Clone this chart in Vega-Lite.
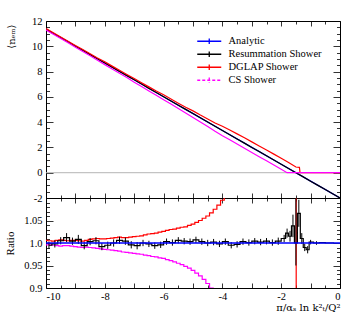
{
  "$schema": "https://vega.github.io/schema/vega-lite/v6.json",
  "autosize": {"type": "pad"},
  "padding": {"left": 3, "top": 15, "right": 5, "bottom": 5},
  "bounds": "flush",
  "spacing": 0,
  "config": {
    "view": {"stroke": "black", "strokeWidth": 1},
    "font": "Liberation Serif",
    "axis": {"domain": false, "grid": false, "labelFont": "Liberation Serif", "labelFontSize": 10.5, "labelColor": "black", "tickColor": "black", "tickWidth": 0.8, "titleFont": "DejaVu Serif", "titleFontSize": 10, "titleFontWeight": "normal", "titleColor": "black"}
  },
  "datasets": {
    "top": [
      {"x": -10, "s": "Analytic", "y": 11.35}, {"x": -9, "s": "Analytic", "y": 10.015}, {"x": -8, "s": "Analytic", "y": 8.68}, {"x": -7, "s": "Analytic", "y": 7.345}, {"x": -6, "s": "Analytic", "y": 6.01}, {"x": -5, "s": "Analytic", "y": 4.675}, {"x": -4, "s": "Analytic", "y": 3.34}, {"x": -3, "s": "Analytic", "y": 2.005}, {"x": -2, "s": "Analytic", "y": 0.67}, {"x": -1, "s": "Analytic", "y": -0.665}, {"x": 0, "s": "Analytic", "y": -2.0},
      {"x": -10, "s": "Resummation Shower", "y": 11.36}, {"x": -9.75, "s": "Resummation Shower", "y": 11.01}, {"x": -9.5, "s": "Resummation Shower", "y": 10.69}, {"x": -9.25, "s": "Resummation Shower", "y": 10.36}, {"x": -9, "s": "Resummation Shower", "y": 10.01}, {"x": -8.75, "s": "Resummation Shower", "y": 9.69}, {"x": -8.5, "s": "Resummation Shower", "y": 9.34}, {"x": -8.25, "s": "Resummation Shower", "y": 9.02}, {"x": -8, "s": "Resummation Shower", "y": 8.67}, {"x": -7.75, "s": "Resummation Shower", "y": 8.35}, {"x": -7.5, "s": "Resummation Shower", "y": 8.01}, {"x": -7.25, "s": "Resummation Shower", "y": 7.68}, {"x": -7, "s": "Resummation Shower", "y": 7.35}, {"x": -6.75, "s": "Resummation Shower", "y": 7.01}, {"x": -6.5, "s": "Resummation Shower", "y": 6.67}, {"x": -6.25, "s": "Resummation Shower", "y": 6.35}, {"x": -6, "s": "Resummation Shower", "y": 6.01}, {"x": -5.75, "s": "Resummation Shower", "y": 5.68}, {"x": -5.5, "s": "Resummation Shower", "y": 5.34}, {"x": -5.25, "s": "Resummation Shower", "y": 5.01}, {"x": -5, "s": "Resummation Shower", "y": 4.68}, {"x": -4.75, "s": "Resummation Shower", "y": 4.34}, {"x": -4.5, "s": "Resummation Shower", "y": 4.01}, {"x": -4.25, "s": "Resummation Shower", "y": 3.67}, {"x": -4, "s": "Resummation Shower", "y": 3.34}, {"x": -3.75, "s": "Resummation Shower", "y": 3.0}, {"x": -3.5, "s": "Resummation Shower", "y": 2.67}, {"x": -3.25, "s": "Resummation Shower", "y": 2.34}, {"x": -3, "s": "Resummation Shower", "y": 2.0}, {"x": -2.75, "s": "Resummation Shower", "y": 1.67}, {"x": -2.5, "s": "Resummation Shower", "y": 1.34}, {"x": -2.25, "s": "Resummation Shower", "y": 1.01}, {"x": -2, "s": "Resummation Shower", "y": 0.67}, {"x": -1.75, "s": "Resummation Shower", "y": 0.34}, {"x": -1.5, "s": "Resummation Shower", "y": 0.0}, {"x": -1.25, "s": "Resummation Shower", "y": -0.33}, {"x": -1, "s": "Resummation Shower", "y": -0.67}, {"x": -0.75, "s": "Resummation Shower", "y": -1.0}, {"x": -0.5, "s": "Resummation Shower", "y": -1.33}, {"x": -0.25, "s": "Resummation Shower", "y": -1.67}, {"x": 0, "s": "Resummation Shower", "y": -2.0},
      {"x": -10, "s": "DGLAP Shower", "y": 11.41}, {"x": -9.75, "s": "DGLAP Shower", "y": 11.07}, {"x": -9.5, "s": "DGLAP Shower", "y": 10.74}, {"x": -9.25, "s": "DGLAP Shower", "y": 10.4}, {"x": -9, "s": "DGLAP Shower", "y": 10.07}, {"x": -8.75, "s": "DGLAP Shower", "y": 9.74}, {"x": -8.5, "s": "DGLAP Shower", "y": 9.41}, {"x": -8.25, "s": "DGLAP Shower", "y": 9.08}, {"x": -8, "s": "DGLAP Shower", "y": 8.77}, {"x": -7.75, "s": "DGLAP Shower", "y": 8.43}, {"x": -7.5, "s": "DGLAP Shower", "y": 8.1}, {"x": -7.25, "s": "DGLAP Shower", "y": 7.77}, {"x": -7, "s": "DGLAP Shower", "y": 7.45}, {"x": -6.75, "s": "DGLAP Shower", "y": 7.12}, {"x": -6.5, "s": "DGLAP Shower", "y": 6.79}, {"x": -6.25, "s": "DGLAP Shower", "y": 6.46}, {"x": -6, "s": "DGLAP Shower", "y": 6.16}, {"x": -5.75, "s": "DGLAP Shower", "y": 5.83}, {"x": -5.5, "s": "DGLAP Shower", "y": 5.5}, {"x": -5.25, "s": "DGLAP Shower", "y": 5.18}, {"x": -5, "s": "DGLAP Shower", "y": 4.89}, {"x": -4.75, "s": "DGLAP Shower", "y": 4.56}, {"x": -4.5, "s": "DGLAP Shower", "y": 4.25}, {"x": -4.25, "s": "DGLAP Shower", "y": 3.93}, {"x": -4, "s": "DGLAP Shower", "y": 3.67}, {"x": -3.75, "s": "DGLAP Shower", "y": 3.38}, {"x": -3.5, "s": "DGLAP Shower", "y": 3.07}, {"x": -3.25, "s": "DGLAP Shower", "y": 2.76}, {"x": -3, "s": "DGLAP Shower", "y": 2.44}, {"x": -2.75, "s": "DGLAP Shower", "y": 2.12}, {"x": -2.5, "s": "DGLAP Shower", "y": 1.8}, {"x": -2.25, "s": "DGLAP Shower", "y": 1.47}, {"x": -2, "s": "DGLAP Shower", "y": 1.14}, {"x": -1.75, "s": "DGLAP Shower", "y": 0.81}, {"x": -1.5, "s": "DGLAP Shower", "y": 0.45}, {"x": -1.38, "s": "DGLAP Shower", "y": 0.42}, {"x": -1.36, "s": "DGLAP Shower", "y": 0.0}, {"x": -1, "s": "DGLAP Shower", "y": 0.0}, {"x": -0.5, "s": "DGLAP Shower", "y": 0.0}, {"x": 0, "s": "DGLAP Shower", "y": 0.0},
      {"x": -10, "s": "CS Shower", "y": 11.29}, {"x": -9.75, "s": "CS Shower", "y": 10.96}, {"x": -9.5, "s": "CS Shower", "y": 10.62}, {"x": -9.25, "s": "CS Shower", "y": 10.28}, {"x": -9, "s": "CS Shower", "y": 9.93}, {"x": -8.75, "s": "CS Shower", "y": 9.59}, {"x": -8.5, "s": "CS Shower", "y": 9.25}, {"x": -8.25, "s": "CS Shower", "y": 8.9}, {"x": -8, "s": "CS Shower", "y": 8.55}, {"x": -7.75, "s": "CS Shower", "y": 8.21}, {"x": -7.5, "s": "CS Shower", "y": 7.87}, {"x": -7.25, "s": "CS Shower", "y": 7.53}, {"x": -7, "s": "CS Shower", "y": 7.16}, {"x": -6.75, "s": "CS Shower", "y": 6.82}, {"x": -6.5, "s": "CS Shower", "y": 6.47}, {"x": -6.25, "s": "CS Shower", "y": 6.12}, {"x": -6, "s": "CS Shower", "y": 5.77}, {"x": -5.75, "s": "CS Shower", "y": 5.43}, {"x": -5.5, "s": "CS Shower", "y": 5.08}, {"x": -5.25, "s": "CS Shower", "y": 4.73}, {"x": -5, "s": "CS Shower", "y": 4.37}, {"x": -4.75, "s": "CS Shower", "y": 4.02}, {"x": -4.5, "s": "CS Shower", "y": 3.65}, {"x": -4.25, "s": "CS Shower", "y": 3.28}, {"x": -4, "s": "CS Shower", "y": 2.93}, {"x": -3.75, "s": "CS Shower", "y": 2.6}, {"x": -3.5, "s": "CS Shower", "y": 2.27}, {"x": -3.25, "s": "CS Shower", "y": 1.93}, {"x": -3, "s": "CS Shower", "y": 1.6}, {"x": -2.75, "s": "CS Shower", "y": 1.27}, {"x": -2.5, "s": "CS Shower", "y": 0.94}, {"x": -2.25, "s": "CS Shower", "y": 0.61}, {"x": -2, "s": "CS Shower", "y": 0.28}, {"x": -1.8, "s": "CS Shower", "y": 0.0}, {"x": -1, "s": "CS Shower", "y": 0.0}, {"x": 0, "s": "CS Shower", "y": 0.0}
    ],
    "ratio": [
      {"x": -10, "s": "DGLAP Shower", "r": 1.006}, {"x": -9.875, "s": "DGLAP Shower", "r": 1.005}, {"x": -9.75, "s": "DGLAP Shower", "r": 1.004}, {"x": -9.625, "s": "DGLAP Shower", "r": 1.006}, {"x": -9.5, "s": "DGLAP Shower", "r": 1.007}, {"x": -9.375, "s": "DGLAP Shower", "r": 1.006}, {"x": -9.25, "s": "DGLAP Shower", "r": 1.005}, {"x": -9.125, "s": "DGLAP Shower", "r": 1.006}, {"x": -9, "s": "DGLAP Shower", "r": 1.006}, {"x": -8.875, "s": "DGLAP Shower", "r": 1.005}, {"x": -8.75, "s": "DGLAP Shower", "r": 1.004}, {"x": -8.625, "s": "DGLAP Shower", "r": 1.006}, {"x": -8.5, "s": "DGLAP Shower", "r": 1.008}, {"x": -8.375, "s": "DGLAP Shower", "r": 1.009}, {"x": -8.25, "s": "DGLAP Shower", "r": 1.01}, {"x": -8.125, "s": "DGLAP Shower", "r": 1.009}, {"x": -8, "s": "DGLAP Shower", "r": 1.009}, {"x": -7.875, "s": "DGLAP Shower", "r": 1.01}, {"x": -7.75, "s": "DGLAP Shower", "r": 1.011}, {"x": -7.625, "s": "DGLAP Shower", "r": 1.012}, {"x": -7.5, "s": "DGLAP Shower", "r": 1.013}, {"x": -7.375, "s": "DGLAP Shower", "r": 1.012}, {"x": -7.25, "s": "DGLAP Shower", "r": 1.012}, {"x": -7.125, "s": "DGLAP Shower", "r": 1.013}, {"x": -7, "s": "DGLAP Shower", "r": 1.014}, {"x": -6.875, "s": "DGLAP Shower", "r": 1.015}, {"x": -6.75, "s": "DGLAP Shower", "r": 1.016}, {"x": -6.625, "s": "DGLAP Shower", "r": 1.018}, {"x": -6.5, "s": "DGLAP Shower", "r": 1.02}, {"x": -6.375, "s": "DGLAP Shower", "r": 1.021}, {"x": -6.25, "s": "DGLAP Shower", "r": 1.022}, {"x": -6.125, "s": "DGLAP Shower", "r": 1.024}, {"x": -6, "s": "DGLAP Shower", "r": 1.026}, {"x": -5.875, "s": "DGLAP Shower", "r": 1.028}, {"x": -5.75, "s": "DGLAP Shower", "r": 1.03}, {"x": -5.625, "s": "DGLAP Shower", "r": 1.031}, {"x": -5.5, "s": "DGLAP Shower", "r": 1.033}, {"x": -5.375, "s": "DGLAP Shower", "r": 1.035}, {"x": -5.25, "s": "DGLAP Shower", "r": 1.036}, {"x": -5.125, "s": "DGLAP Shower", "r": 1.039}, {"x": -5, "s": "DGLAP Shower", "r": 1.042}, {"x": -4.875, "s": "DGLAP Shower", "r": 1.046}, {"x": -4.75, "s": "DGLAP Shower", "r": 1.05}, {"x": -4.625, "s": "DGLAP Shower", "r": 1.055}, {"x": -4.5, "s": "DGLAP Shower", "r": 1.06}, {"x": -4.375, "s": "DGLAP Shower", "r": 1.067}, {"x": -4.25, "s": "DGLAP Shower", "r": 1.075}, {"x": -4.125, "s": "DGLAP Shower", "r": 1.084}, {"x": -4, "s": "DGLAP Shower", "r": 1.095}, {"x": -3.875, "s": "DGLAP Shower", "r": 1.11}, {"x": -3.75, "s": "DGLAP Shower", "r": 1.13}, {"x": -3.5, "s": "DGLAP Shower", "r": 1.15}, {"x": -3, "s": "DGLAP Shower", "r": 1.22}, {"x": -2.5, "s": "DGLAP Shower", "r": 1.35}, {"x": -2, "s": "DGLAP Shower", "r": 1.7}, {"x": -1.75, "s": "DGLAP Shower", "r": 2.4}, {"x": -1.55, "s": "DGLAP Shower", "r": 10}, {"x": -1.43, "s": "DGLAP Shower", "r": 0}, {"x": -1, "s": "DGLAP Shower", "r": 0}, {"x": 0, "s": "DGLAP Shower", "r": 0},
      {"x": -10, "s": "CS Shower", "r": 0.996}, {"x": -9.875, "s": "CS Shower", "r": 0.996}, {"x": -9.75, "s": "CS Shower", "r": 0.995}, {"x": -9.625, "s": "CS Shower", "r": 0.994}, {"x": -9.5, "s": "CS Shower", "r": 0.993}, {"x": -9.375, "s": "CS Shower", "r": 0.994}, {"x": -9.25, "s": "CS Shower", "r": 0.994}, {"x": -9.125, "s": "CS Shower", "r": 0.993}, {"x": -9, "s": "CS Shower", "r": 0.992}, {"x": -8.875, "s": "CS Shower", "r": 0.991}, {"x": -8.75, "s": "CS Shower", "r": 0.99}, {"x": -8.625, "s": "CS Shower", "r": 0.991}, {"x": -8.5, "s": "CS Shower", "r": 0.99}, {"x": -8.375, "s": "CS Shower", "r": 0.989}, {"x": -8.25, "s": "CS Shower", "r": 0.988}, {"x": -8.125, "s": "CS Shower", "r": 0.987}, {"x": -8, "s": "CS Shower", "r": 0.986}, {"x": -7.875, "s": "CS Shower", "r": 0.985}, {"x": -7.75, "s": "CS Shower", "r": 0.984}, {"x": -7.625, "s": "CS Shower", "r": 0.983}, {"x": -7.5, "s": "CS Shower", "r": 0.982}, {"x": -7.375, "s": "CS Shower", "r": 0.98}, {"x": -7.25, "s": "CS Shower", "r": 0.979}, {"x": -7.125, "s": "CS Shower", "r": 0.978}, {"x": -7, "s": "CS Shower", "r": 0.977}, {"x": -6.875, "s": "CS Shower", "r": 0.976}, {"x": -6.75, "s": "CS Shower", "r": 0.975}, {"x": -6.625, "s": "CS Shower", "r": 0.973}, {"x": -6.5, "s": "CS Shower", "r": 0.972}, {"x": -6.375, "s": "CS Shower", "r": 0.97}, {"x": -6.25, "s": "CS Shower", "r": 0.969}, {"x": -6.125, "s": "CS Shower", "r": 0.967}, {"x": -6, "s": "CS Shower", "r": 0.966}, {"x": -5.875, "s": "CS Shower", "r": 0.963}, {"x": -5.75, "s": "CS Shower", "r": 0.961}, {"x": -5.625, "s": "CS Shower", "r": 0.958}, {"x": -5.5, "s": "CS Shower", "r": 0.955}, {"x": -5.375, "s": "CS Shower", "r": 0.952}, {"x": -5.25, "s": "CS Shower", "r": 0.948}, {"x": -5.125, "s": "CS Shower", "r": 0.944}, {"x": -5, "s": "CS Shower", "r": 0.939}, {"x": -4.875, "s": "CS Shower", "r": 0.933}, {"x": -4.75, "s": "CS Shower", "r": 0.927}, {"x": -4.625, "s": "CS Shower", "r": 0.919}, {"x": -4.5, "s": "CS Shower", "r": 0.91}, {"x": -4.375, "s": "CS Shower", "r": 0.9}, {"x": -4.25, "s": "CS Shower", "r": 0.89}, {"x": -4, "s": "CS Shower", "r": 0.877}, {"x": -3, "s": "CS Shower", "r": 0.8}, {"x": -2, "s": "CS Shower", "r": 0.42}, {"x": -1.5, "s": "CS Shower", "r": 0}, {"x": 0, "s": "CS Shower", "r": 0},
      {"x": -9.9, "s": "Resummation Shower", "r": 0.995}, {"x": -9.7, "s": "Resummation Shower", "r": 0.998}, {"x": -9.5, "s": "Resummation Shower", "r": 1.005}, {"x": -9.3, "s": "Resummation Shower", "r": 1.012}, {"x": -9.1, "s": "Resummation Shower", "r": 1.004}, {"x": -8.9, "s": "Resummation Shower", "r": 1.008}, {"x": -8.7, "s": "Resummation Shower", "r": 0.994}, {"x": -8.5, "s": "Resummation Shower", "r": 1.003}, {"x": -8.3, "s": "Resummation Shower", "r": 1.005}, {"x": -8.1, "s": "Resummation Shower", "r": 0.992}, {"x": -7.9, "s": "Resummation Shower", "r": 0.995}, {"x": -7.7, "s": "Resummation Shower", "r": 1.0}, {"x": -7.5, "s": "Resummation Shower", "r": 1.006}, {"x": -7.3, "s": "Resummation Shower", "r": 1.004}, {"x": -7.1, "s": "Resummation Shower", "r": 0.996}, {"x": -6.9, "s": "Resummation Shower", "r": 0.994}, {"x": -6.7, "s": "Resummation Shower", "r": 1.0}, {"x": -6.5, "s": "Resummation Shower", "r": 0.998}, {"x": -6.3, "s": "Resummation Shower", "r": 0.994}, {"x": -6.1, "s": "Resummation Shower", "r": 0.996}, {"x": -5.9, "s": "Resummation Shower", "r": 1.003}, {"x": -5.7, "s": "Resummation Shower", "r": 1.001}, {"x": -5.5, "s": "Resummation Shower", "r": 1.006}, {"x": -5.3, "s": "Resummation Shower", "r": 1.004}, {"x": -5.1, "s": "Resummation Shower", "r": 1.003}, {"x": -4.9, "s": "Resummation Shower", "r": 1.007}, {"x": -4.7, "s": "Resummation Shower", "r": 1.003}, {"x": -4.5, "s": "Resummation Shower", "r": 1.0}, {"x": -4.3, "s": "Resummation Shower", "r": 1.002}, {"x": -4.1, "s": "Resummation Shower", "r": 0.998}, {"x": -3.9, "s": "Resummation Shower", "r": 1.003}, {"x": -3.7, "s": "Resummation Shower", "r": 0.995}, {"x": -3.5, "s": "Resummation Shower", "r": 0.997}, {"x": -3.3, "s": "Resummation Shower", "r": 1.003}, {"x": -3.1, "s": "Resummation Shower", "r": 1.001}, {"x": -2.9, "s": "Resummation Shower", "r": 1.004}, {"x": -2.7, "s": "Resummation Shower", "r": 1.002}, {"x": -2.5, "s": "Resummation Shower", "r": 1.004}, {"x": -2.3, "s": "Resummation Shower", "r": 1.001}, {"x": -2.1, "s": "Resummation Shower", "r": 1.004}, {"x": -1.9, "s": "Resummation Shower", "r": 1.01}, {"x": -1.8, "s": "Resummation Shower", "r": 1.022}, {"x": -1.7, "s": "Resummation Shower", "r": 1.015}, {"x": -1.6, "s": "Resummation Shower", "r": 1.038}, {"x": -1.5, "s": "Resummation Shower", "r": 1.0}, {"x": -1.4, "s": "Resummation Shower", "r": 1.066}, {"x": -1.3, "s": "Resummation Shower", "r": 1.01}, {"x": -1.2, "s": "Resummation Shower", "r": 0.99}, {"x": -1.1, "s": "Resummation Shower", "r": 0.985}, {"x": -1.0, "s": "Resummation Shower", "r": 1.002}, {"x": -0.8, "s": "Resummation Shower", "r": 1.0}, {"x": -0.6, "s": "Resummation Shower", "r": 1.001}, {"x": -0.4, "s": "Resummation Shower", "r": 1.0}, {"x": -0.2, "s": "Resummation Shower", "r": 1.0}
    ],
    "err": [
      {"x": -9.9, "lo": 0.987, "hi": 1.003}, {"x": -9.7, "lo": 0.99, "hi": 1.006}, {"x": -9.5, "lo": 0.997, "hi": 1.013}, {"x": -9.3, "lo": 1.002, "hi": 1.022}, {"x": -9.1, "lo": 0.996, "hi": 1.012}, {"x": -8.9, "lo": 0.998, "hi": 1.018}, {"x": -8.7, "lo": 0.986, "hi": 1.002}, {"x": -8.5, "lo": 0.995, "hi": 1.011}, {"x": -8.3, "lo": 0.997, "hi": 1.013}, {"x": -8.1, "lo": 0.984, "hi": 1.0}, {"x": -7.9, "lo": 0.987, "hi": 1.003}, {"x": -7.7, "lo": 0.992, "hi": 1.008}, {"x": -7.5, "lo": 0.998, "hi": 1.014}, {"x": -7.3, "lo": 0.996, "hi": 1.012}, {"x": -7.1, "lo": 0.988, "hi": 1.004}, {"x": -6.9, "lo": 0.986, "hi": 1.002}, {"x": -6.7, "lo": 0.993, "hi": 1.007}, {"x": -6.5, "lo": 0.991, "hi": 1.005}, {"x": -6.3, "lo": 0.987, "hi": 1.001}, {"x": -6.1, "lo": 0.989, "hi": 1.003}, {"x": -5.9, "lo": 0.996, "hi": 1.01}, {"x": -5.7, "lo": 0.994, "hi": 1.008}, {"x": -5.5, "lo": 0.999, "hi": 1.013}, {"x": -5.3, "lo": 0.997, "hi": 1.011}, {"x": -5.1, "lo": 0.996, "hi": 1.01}, {"x": -4.9, "lo": 1.0, "hi": 1.014}, {"x": -4.7, "lo": 0.996, "hi": 1.01}, {"x": -4.5, "lo": 0.993, "hi": 1.007}, {"x": -4.3, "lo": 0.995, "hi": 1.009}, {"x": -4.1, "lo": 0.991, "hi": 1.005}, {"x": -3.9, "lo": 0.996, "hi": 1.01}, {"x": -3.7, "lo": 0.988, "hi": 1.002}, {"x": -3.5, "lo": 0.99, "hi": 1.004}, {"x": -3.3, "lo": 0.996, "hi": 1.01}, {"x": -3.1, "lo": 0.994, "hi": 1.008}, {"x": -2.9, "lo": 0.997, "hi": 1.011}, {"x": -2.7, "lo": 0.995, "hi": 1.009}, {"x": -2.5, "lo": 0.997, "hi": 1.011}, {"x": -2.3, "lo": 0.994, "hi": 1.008}, {"x": -2.1, "lo": 0.996, "hi": 1.012}, {"x": -1.9, "lo": 1.002, "hi": 1.018}, {"x": -1.8, "lo": 1.012, "hi": 1.032}, {"x": -1.7, "lo": 1.003, "hi": 1.027}, {"x": -1.6, "lo": 1.013, "hi": 1.063}, {"x": -1.5, "lo": 0.95, "hi": 1.12}, {"x": -1.4, "lo": 1.036, "hi": 1.096}, {"x": -1.3, "lo": 0.998, "hi": 1.022}, {"x": -1.2, "lo": 0.982, "hi": 0.998}, {"x": -1.1, "lo": 0.977, "hi": 0.993}, {"x": -1.0, "lo": 0.997, "hi": 1.007}, {"x": -0.8, "lo": 0.996, "hi": 1.004}
    ],
    "analyticRatio": [{"x": -10, "r": 1.0}, {"x": 0, "r": 1.0}]
  },
  "resolve": {"legend": {"color": "independent"}},
  "vconcat": [
    {
      "width": 294,
      "height": 177,
      "resolve": {"axis": {"x": "independent", "y": "independent"}},
      "layer": [
        {
          "data": {"values": [{"y": 0}]},
          "mark": {"type": "rule", "color": "#b4b4b4", "strokeWidth": 1},
          "encoding": {"y": {"field": "y", "type": "quantitative", "scale": {"domain": [-2, 12], "nice": false, "zero": false}, "axis": null}}
        },
        {
          "data": {"name": "top"},
          "mark": {"type": "line", "strokeWidth": 1.2, "clip": true},
          "encoding": {
            "x": {"field": "x", "type": "quantitative", "scale": {"domain": [-10, 0], "nice": false, "zero": false},
                  "axis": {"orient": "bottom", "values": [-10, -9, -8, -7, -6, -5, -4, -3, -2, -1, 0], "tickSize": -5, "labels": false, "title": null}},
            "y": {"field": "y", "type": "quantitative", "scale": {"domain": [-2, 12], "nice": false, "zero": false},
                  "axis": {"orient": "left", "values": [-2, 0, 2, 4, 6, 8, 10, 12], "tickSize": -7, "labelPadding": 11, "labelExpr": "'' + datum.value", "title": "⟨nₑₘ⟩", "titleAnchor": "end", "titleX": -30, "titleY": 3}},
            "color": {"field": "s", "type": "nominal",
                      "scale": {"domain": ["Analytic", "Resummation Shower", "DGLAP Shower", "CS Shower"], "range": ["#0000ff", "#000000", "#ff0000", "#ff00ff"]},
                      "legend": {"orient": "none", "legendX": 158, "legendY": 15, "title": null, "padding": 0,
                                 "symbolType": "M-3,0L3,0M0,-0.7L0,0.7", "symbolSize": 64, "symbolStrokeWidth": 1.3, "symbolFillColor": "transparent",
                                 "labelFont": "Liberation Serif", "labelFontSize": 10.5, "labelColor": "black", "labelOffset": 14, "labelLimit": 200, "rowPadding": 1,
                                 "encode": {"symbols": {"update": {"strokeDash": {"signal": "datum.value === 'CS Shower' ? [3, 2] : [1, 0]"}}}}}}
          }
        },
        {
          "data": {"values": [{"x": -10, "y": 0}]},
          "mark": {"type": "point", "opacity": 0},
          "encoding": {
            "x": {"field": "x", "type": "quantitative", "scale": {"domain": [-10, 0], "nice": false, "zero": false},
                  "axis": {"orient": "bottom", "values": [-9.5, -8.5, -7.5, -6.5, -5.5, -4.5, -3.5, -2.5, -1.5, -0.5], "tickSize": -3, "labels": false, "title": null}},
            "y": {"field": "y", "type": "quantitative", "scale": {"domain": [-2, 12], "nice": false, "zero": false},
                  "axis": {"orient": "left", "values": [-1.5, -1, -0.5, 0.5, 1, 1.5, 2.5, 3, 3.5, 4.5, 5, 5.5, 6.5, 7, 7.5, 8.5, 9, 9.5, 10.5, 11, 11.5], "tickSize": -3.5, "labels": false, "title": null}}
          }
        },
        {
          "data": {"values": [{"x": -10, "y": 0}]},
          "mark": {"type": "point", "opacity": 0},
          "encoding": {
            "x": {"field": "x", "type": "quantitative", "scale": {"domain": [-10, 0], "nice": false, "zero": false},
                  "axis": {"orient": "top", "values": [-10, -9, -8, -7, -6, -5, -4, -3, -2, -1, 0], "tickSize": -5, "labels": false, "title": null}},
            "y": {"field": "y", "type": "quantitative", "scale": {"domain": [-2, 12], "nice": false, "zero": false},
                  "axis": {"orient": "right", "values": [-2, 0, 2, 4, 6, 8, 10, 12], "tickSize": -7, "labels": false, "title": null}}
          }
        },
        {
          "data": {"values": [{"x": -10, "y": 0}]},
          "mark": {"type": "point", "opacity": 0},
          "encoding": {
            "x": {"field": "x", "type": "quantitative", "scale": {"domain": [-10, 0], "nice": false, "zero": false},
                  "axis": {"orient": "top", "values": [-9.5, -8.5, -7.5, -6.5, -5.5, -4.5, -3.5, -2.5, -1.5, -0.5], "tickSize": -3, "labels": false, "title": null}},
            "y": {"field": "y", "type": "quantitative", "scale": {"domain": [-2, 12], "nice": false, "zero": false},
                  "axis": {"orient": "right", "values": [-1.5, -1, -0.5, 0.5, 1, 1.5, 2.5, 3, 3.5, 4.5, 5, 5.5, 6.5, 7, 7.5, 8.5, 9, 9.5, 10.5, 11, 11.5], "tickSize": -3.5, "labels": false, "title": null}}
          }
        }
      ]
    },
    {
      "width": 294,
      "height": 90,
      "resolve": {"axis": {"x": "independent", "y": "independent"}},
      "layer": [
        {
          "data": {"name": "ratio"},
          "mark": {"type": "line", "interpolate": "step", "strokeWidth": 1.2, "clip": true},
          "encoding": {
            "x": {"field": "x", "type": "quantitative", "scale": {"domain": [-10, 0], "nice": false, "zero": false},
                  "axis": {"orient": "bottom", "values": [-10, -9, -8, -7, -6, -5, -4, -3, -2, -1, 0], "tickSize": -5, "labelPadding": 8, "labelExpr": "datum.value % 2 == 0 ? '' + datum.value : ''",
                           "title": "π/αₛ ln k²ₜ/Q²", "titleAnchor": "end", "titleFontSize": 10, "titleY": 14, "titleBaseline": "top"}},
            "y": {"field": "r", "type": "quantitative", "scale": {"domain": [0.9, 1.1], "nice": false, "zero": false},
                  "axis": {"orient": "left", "values": [0.9, 0.95, 1, 1.05, 1.1], "tickSize": -7, "labelPadding": 11, "labelExpr": "datum.value > 1.09 ? '' : datum.value == 1 ? '1.0' : '' + datum.value",
                           "title": "Ratio", "titleX": -31, "titleFont": "Liberation Serif", "titleFontSize": 11}},
            "color": {"field": "s", "type": "nominal",
                      "scale": {"domain": ["Analytic", "Resummation Shower", "DGLAP Shower", "CS Shower"], "range": ["#0000ff", "#000000", "#ff0000", "#ff00ff"]},
                      "legend": null}
          }
        },
        {
          "data": {"name": "err"},
          "mark": {"type": "rule", "color": "black", "strokeWidth": 1, "clip": true},
          "encoding": {
            "x": {"field": "x", "type": "quantitative", "scale": {"domain": [-10, 0], "nice": false, "zero": false}, "axis": null},
            "y": {"field": "lo", "type": "quantitative", "scale": {"domain": [0.9, 1.1], "nice": false, "zero": false}, "axis": null},
            "y2": {"field": "hi"}
          }
        },
        {
          "data": {"name": "analyticRatio"},
          "mark": {"type": "line", "color": "#0000ff", "strokeWidth": 1.4, "clip": true},
          "encoding": {
            "x": {"field": "x", "type": "quantitative", "scale": {"domain": [-10, 0], "nice": false, "zero": false},
                  "axis": {"orient": "bottom", "values": [-9.5, -8.5, -7.5, -6.5, -5.5, -4.5, -3.5, -2.5, -1.5, -0.5], "tickSize": -3, "labels": false, "title": null}},
            "y": {"field": "r", "type": "quantitative", "scale": {"domain": [0.9, 1.1], "nice": false, "zero": false},
                  "axis": {"orient": "left", "values": [0.91, 0.92, 0.93, 0.94, 0.96, 0.97, 0.98, 0.99, 1.01, 1.02, 1.03, 1.04, 1.06, 1.07, 1.08, 1.09], "tickSize": -3.5, "labels": false, "title": null}}
          }
        },
        {
          "data": {"values": [{"x": -10, "r": 1}]},
          "mark": {"type": "point", "opacity": 0},
          "encoding": {
            "x": {"field": "x", "type": "quantitative", "scale": {"domain": [-10, 0], "nice": false, "zero": false},
                  "axis": {"orient": "top", "values": [-10, -9, -8, -7, -6, -5, -4, -3, -2, -1, 0], "tickSize": -5, "labels": false, "title": null}},
            "y": {"field": "r", "type": "quantitative", "scale": {"domain": [0.9, 1.1], "nice": false, "zero": false},
                  "axis": {"orient": "right", "values": [0.9, 0.95, 1, 1.05, 1.1], "tickSize": -7, "labels": false, "title": null}}
          }
        },
        {
          "data": {"values": [{"x": -10, "r": 1}]},
          "mark": {"type": "point", "opacity": 0},
          "encoding": {
            "x": {"field": "x", "type": "quantitative", "scale": {"domain": [-10, 0], "nice": false, "zero": false},
                  "axis": {"orient": "top", "values": [-9.5, -8.5, -7.5, -6.5, -5.5, -4.5, -3.5, -2.5, -1.5, -0.5], "tickSize": -3, "labels": false, "title": null}},
            "y": {"field": "r", "type": "quantitative", "scale": {"domain": [0.9, 1.1], "nice": false, "zero": false},
                  "axis": {"orient": "right", "values": [0.91, 0.92, 0.93, 0.94, 0.96, 0.97, 0.98, 0.99, 1.01, 1.02, 1.03, 1.04, 1.06, 1.07, 1.08, 1.09], "tickSize": -3.5, "labels": false, "title": null}}
          }
        }
      ]
    }
  ]
}
